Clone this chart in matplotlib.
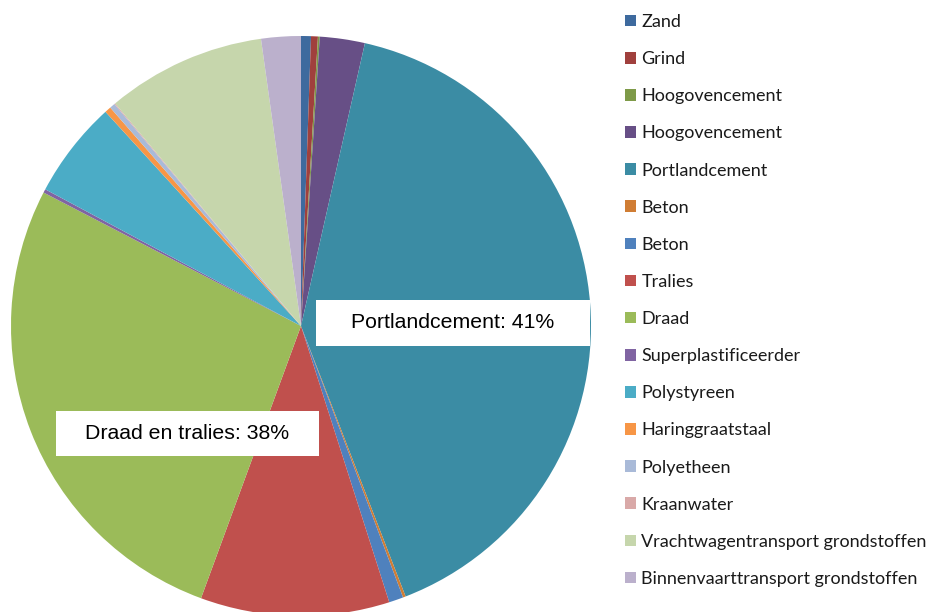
import matplotlib
matplotlib.use("Agg")
import matplotlib.pyplot as plt
from matplotlib.patches import Rectangle

# materiaal aandelen (%), met de klok mee vanaf 12 uur
labels = ['Zand', 'Grind', 'Hoogovencement', 'Hoogovencement', 'Portlandcement',
          'Beton', 'Beton', 'Tralies', 'Draad', 'Superplastificeerder',
          'Polystyreen', 'Haringgraatstaal', 'Polyetheen', 'Kraanwater',
          'Vrachtwagentransport grondstoffen', 'Binnenvaarttransport grondstoffen']
values = [0.55, 0.38, 0.1, 2.5, 40.5, 0.15, 0.8, 10.5, 26.95, 0.2,
          5.4, 0.35, 0.3, 0.05, 8.85, 2.2]
colors = ['#3E6A9E', '#A0403D', '#7E9A48', '#674F86', '#3B8CA4', '#D07D34',
          '#4F81BD', '#C0504D', '#9BBB59', '#8064A2', '#4BACC6', '#F79646',
          '#A9BAD8', '#D9A9A8', '#C6D6AC', '#BBB0CC']

total = sum(values)
pct_portland = values[4] / total * 100
pct_draad_tralies = (values[7] + values[8]) / total * 100

W, H = 933, 612
fig = plt.figure(figsize=(W / 100, H / 100), dpi=100)

# pie axes: center (301, 326), radius 290 px
cx, cy, r = 301, 326, 290
ax = fig.add_axes([(cx - r) / W, 1 - (cy + r) / H, 2 * r / W, 2 * r / H])
wedges, _ = ax.pie(values, colors=colors, startangle=90, counterclock=False,
                   wedgeprops=dict(linewidth=0))
ax.set_xlim(-1, 1)
ax.set_ylim(-1, 1)
ax.set_aspect('auto')
ax.axis('off')


def label_box(x0, y0, x1, y1, text):
    # box in pixel coordinates (top-left origin)
    fig.patches.append(Rectangle((x0 / W, 1 - y1 / H), (x1 - x0) / W, (y1 - y0) / H,
                                 transform=fig.transFigure, facecolor='white',
                                 edgecolor='none', zorder=5))
    fig.text((x0 + x1) / 2 / W, 1 - (y0 + y1) / 2 / H, text, ha='center', va='center',
             fontsize=15.3, family='Liberation Sans', color='black', zorder=6)


label_box(316, 300, 590, 346, 'Portlandcement: %d%%' % round(pct_portland))
label_box(56, 411, 319, 456, 'Draad en tralies: %d%%' % round(pct_draad_tralies))

leg = fig.legend(wedges, labels, loc='upper left', bbox_to_anchor=(625 / W, 1 - 14 / H),
                 frameon=False, prop={'family': 'Lato', 'size': 13},
                 handlelength=0.61, handleheight=0.61, handletextpad=0.3,
                 labelspacing=1.17, borderaxespad=0, borderpad=0)
for t in leg.get_texts():
    t.set_color('#1a1a1a')

fig.savefig('out.png', dpi=100)
